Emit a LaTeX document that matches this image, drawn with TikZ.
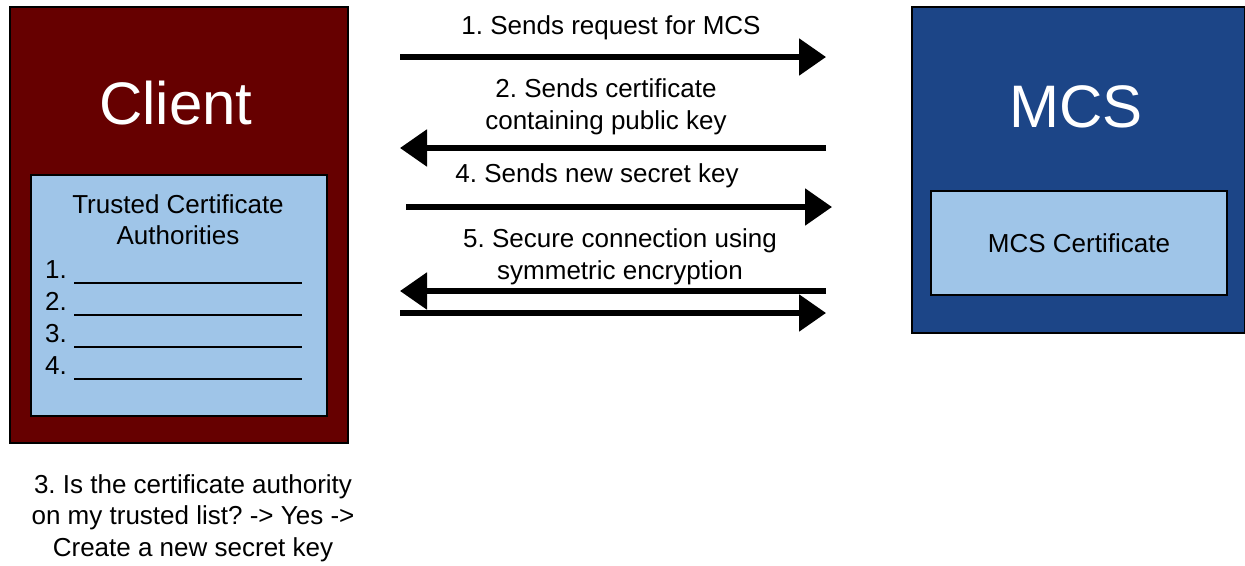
\documentclass[tikz,border=0pt]{standalone}
\usepackage{fontspec}
\setmainfont{Liberation Sans}
\usetikzlibrary{arrows.meta}
\definecolor{clientred}{HTML}{660000}
\definecolor{mcsblue}{HTML}{1C4587}
\definecolor{certblue}{HTML}{9FC5E8}
\newcommand{\bigfont}{\fontsize{60}{66}\selectfont}
\newcommand{\msgfont}{\fontsize{26}{31.5}\selectfont}
\frenchspacing

\begin{document}
\begin{tikzpicture}[x=1pt,y=-1pt]
    \def\lx{400}
    \def\rx{826}
    \def\dy{32}

    \tikzstyle{box}=[draw=black,line width=1.5pt,inner sep=0pt]
    \tikzstyle{client}=[box,fill=clientred,minimum width=338pt,minimum height=436pt]
    \tikzstyle{server}=[box,fill=mcsblue,minimum width=333pt,minimum height=326pt]
    \tikzstyle{cert}=[box,fill=certblue]
    \tikzstyle{title}=[text=white,font=\bigfont,inner sep=0pt]
    \tikzstyle{msg}=[font=\msgfont,align=center,inner sep=0pt]
    \tikzstyle{entry}=[font=\msgfont,anchor=base west,inner sep=0pt]

    \useasboundingbox (0,0) rectangle (1245,565);

    % client side
    \node[client] (client) at (179,225) {};
    \node[title] (clientl) at (176,103) {Client};
    \node[cert,minimum width=296pt,minimum height=241pt] (cabox) at (179,295.5) {};
    \node[msg,anchor=north] (cal) at (178,194) {Trusted Certificate\\Authorities};
    \foreach \i in {1,...,4}
        \node[entry] (ca\i) at (45,{246+\dy*\i}) {\i. \rule[-5.6pt]{228pt}{1.3pt}};
    \node[msg] (check) at (193,518) {3. Is the certificate authority\\on my trusted list? -> Yes ->\\Create a new secret key};

    % server side
    \node[server] (mcs) at (1078.5,170) {};
    \node[title] (mcsl) at (1076,107) {MCS};
    \node[cert,font=\msgfont,minimum width=296pt,minimum height=104pt] (mcscert) at (1079,243) {MCS Certificate};

    % messages
    \coordinate (req0) at (\lx,57);
    \coordinate (req1) at (\rx,57);
    \coordinate (crt0) at (\rx,148);
    \coordinate (crt1) at (\lx,148);
    \coordinate (key0) at (406,207);
    \coordinate (key1) at (832,207);
    \coordinate (sec0) at (\rx,291);
    \coordinate (sec1) at (\lx,291);
    \coordinate (sec2) at (\lx,313);
    \coordinate (sec3) at (\rx,313);

    \node[msg] (reql) at (611,28) {1. Sends request for MCS};
    \node[msg] (crtl) at (606,107) {2. Sends certificate\\containing public key};
    \node[msg] (keyl) at (597,176) {4. Sends new secret key};
    \node[msg] (secl) at (620,257) {5. Secure connection using\\symmetric encryption};

    \tikzstyle{fwd} = [draw=black, line width=5.5pt, -{Triangle[length=27pt,width=36pt]}]

    \draw [fwd] (req0) -- (req1);
    \draw [fwd] (crt0) -- (crt1);
    \draw [fwd] (key0) -- (key1);
    \draw [fwd] (sec0) -- (sec1);
    \draw [fwd] (sec2) -- (sec3);

\end{tikzpicture}
\end{document}
